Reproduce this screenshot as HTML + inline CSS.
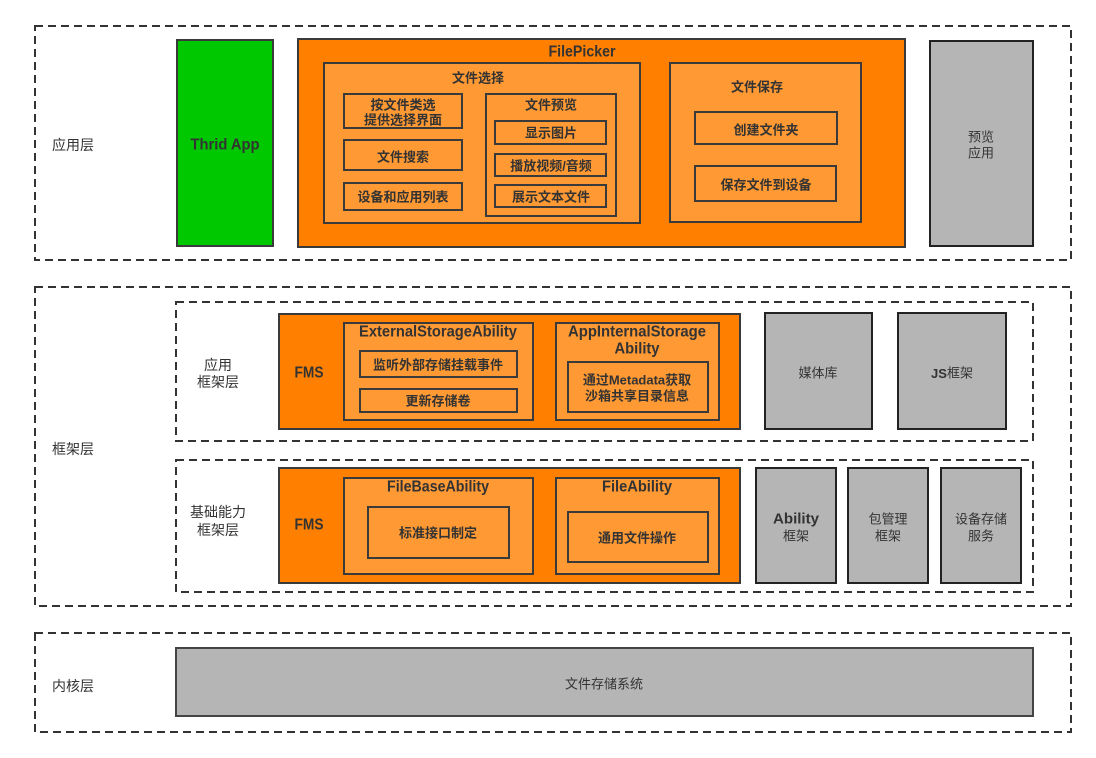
<!DOCTYPE html>
<html><head><meta charset="utf-8"><style>
html,body{margin:0;padding:0;background:#fff;}
svg{display:block;}
text{font-family:"Liberation Sans","Noto Sans CJK SC",sans-serif;fill:#333;dominant-baseline:central;text-anchor:middle;}
.b{font-weight:bold;}
.l{text-anchor:start;font-size:14px;}
</style></head><body>
<svg width="1096" height="758" viewBox="0 0 1096 758" xmlns="http://www.w3.org/2000/svg">
<g fill="none" stroke="#333" stroke-width="2" stroke-dasharray="8 5">
<rect x="35" y="26" width="1036" height="234"/>
<rect x="35" y="287" width="1036" height="319"/>
<rect x="35" y="633" width="1036" height="99"/>
<rect x="176" y="302" width="857" height="139"/>
<rect x="176" y="460" width="857" height="132"/>
</g>
<g stroke="#3a3a3a" stroke-width="2">
<rect x="177" y="40" width="96" height="206" fill="#00C800"/>
<rect x="298" y="39" width="607" height="208" fill="#FF8000"/>
<rect x="324" y="63" width="316" height="160" fill="#FF9933"/>
<rect x="344" y="94" width="118" height="34" fill="#FF9933"/>
<rect x="344" y="140" width="118" height="30" fill="#FF9933"/>
<rect x="344" y="183" width="118" height="27" fill="#FF9933"/>
<rect x="486" y="94" width="130" height="122" fill="#FF9933"/>
<rect x="495" y="121" width="111" height="23" fill="#FF9933"/>
<rect x="495" y="154" width="111" height="22" fill="#FF9933"/>
<rect x="495" y="185" width="111" height="22" fill="#FF9933"/>
<rect x="670" y="63" width="191" height="159" fill="#FF9933"/>
<rect x="695" y="112" width="142" height="32" fill="#FF9933"/>
<rect x="695" y="166" width="141" height="35" fill="#FF9933"/>
<rect x="930" y="41" width="103" height="205" fill="#B5B5B5" stroke="#222"/>

<rect x="279" y="314" width="461" height="115" fill="#FF8000"/>
<rect x="344" y="323" width="189" height="97" fill="#FF9933"/>
<rect x="360" y="351" width="157" height="26" fill="#FF9933"/>
<rect x="360" y="389" width="157" height="23" fill="#FF9933"/>
<rect x="556" y="323" width="163" height="97" fill="#FF9933"/>
<rect x="568" y="362" width="140" height="50" fill="#FF9933"/>
<rect x="765" y="313" width="107" height="116" fill="#B5B5B5" stroke="#222"/>
<rect x="898" y="313" width="108" height="116" fill="#B5B5B5" stroke="#222"/>

<rect x="279" y="468" width="461" height="115" fill="#FF8000"/>
<rect x="344" y="478" width="189" height="96" fill="#FF9933"/>
<rect x="368" y="507" width="141" height="51" fill="#FF9933"/>
<rect x="556" y="478" width="163" height="96" fill="#FF9933"/>
<rect x="568" y="512" width="140" height="50" fill="#FF9933"/>
<rect x="756" y="468" width="80" height="115" fill="#B5B5B5" stroke="#222"/>
<rect x="848" y="468" width="80" height="115" fill="#B5B5B5" stroke="#222"/>
<rect x="941" y="468" width="80" height="115" fill="#B5B5B5" stroke="#222"/>

<rect x="176" y="648" width="857" height="68" fill="#B5B5B5" stroke="#444"/>
</g>

<text class="l" x="52" y="145">应用层</text>
<text class="l" x="52" y="449">框架层</text>
<text class="l" x="52" y="686">内核层</text>
<text x="218" y="365" font-size="14">应用</text>
<text x="218" y="382" font-size="14">框架层</text>
<text x="218" y="512" font-size="14">基础能力</text>
<text x="218" y="530" font-size="14">框架层</text>

<text class="b" x="225" y="145" font-size="16" textLength="69" lengthAdjust="spacingAndGlyphs">Thrid App</text>
<text class="b" x="582" y="52" font-size="16" textLength="67" lengthAdjust="spacingAndGlyphs">FilePicker</text>
<g font-size="13">
<text class="b" x="478" y="78">文件选择</text>
<text class="b" x="403" y="105">按文件类选</text>
<text class="b" x="403" y="120">提供选择界面</text>
<text class="b" x="403" y="157">文件搜索</text>
<text class="b" x="403" y="197">设备和应用列表</text>
<text class="b" x="551" y="105">文件预览</text>
<text class="b" x="551" y="133">显示图片</text>
<text class="b" x="551" y="166">播放视频/音频</text>
<text class="b" x="551" y="197">展示文本文件</text>
<text class="b" x="757" y="87">文件保存</text>
<text class="b" x="766" y="130">创建文件夹</text>
<text class="b" x="766" y="185">保存文件到设备</text>
<text class="b" x="438" y="365">监听外部存储挂载事件</text>
<text class="b" x="438" y="401">更新存储卷</text>
<text class="b" x="637" y="380">通过Metadata获取</text>
<text class="b" x="637" y="396">沙箱共享目录信息</text>
<text class="b" x="438" y="533">标准接口制定</text>
<text class="b" x="637" y="538">通用文件操作</text>
</g>
<text x="981" y="137" font-size="13">预览</text>
<text x="981" y="153" font-size="13">应用</text>

<text class="b" x="309" y="373" font-size="16" textLength="29" lengthAdjust="spacingAndGlyphs">FMS</text>
<text class="b" x="309" y="525" font-size="16" textLength="29" lengthAdjust="spacingAndGlyphs">FMS</text>
<text class="b" x="438" y="332" font-size="16" textLength="158" lengthAdjust="spacingAndGlyphs">ExternalStorageAbility</text>
<text class="b" x="637" y="332" font-size="16" textLength="138" lengthAdjust="spacingAndGlyphs">AppInternalStorage</text>
<text class="b" x="637" y="349" font-size="16" textLength="45" lengthAdjust="spacingAndGlyphs">Ability</text>
<text class="b" x="438" y="487" font-size="16" textLength="102" lengthAdjust="spacingAndGlyphs">FileBaseAbility</text>
<text class="b" x="637" y="487" font-size="16" textLength="70" lengthAdjust="spacingAndGlyphs">FileAbility</text>

<text x="818" y="373" font-size="13">媒体库</text>
<text x="952" y="373" font-size="13"><tspan font-weight="bold">JS</tspan>框架</text>
<text class="b" x="796" y="519" font-size="15" textLength="46" lengthAdjust="spacingAndGlyphs">Ability</text>
<text x="796" y="536" font-size="13">框架</text>
<text x="888" y="519" font-size="13">包管理</text>
<text x="888" y="536" font-size="13">框架</text>
<text x="981" y="519" font-size="13">设备存储</text>
<text x="981" y="536" font-size="13">服务</text>

<text x="604" y="684" font-size="13">文件存储系统</text>
</svg>
</body></html>
